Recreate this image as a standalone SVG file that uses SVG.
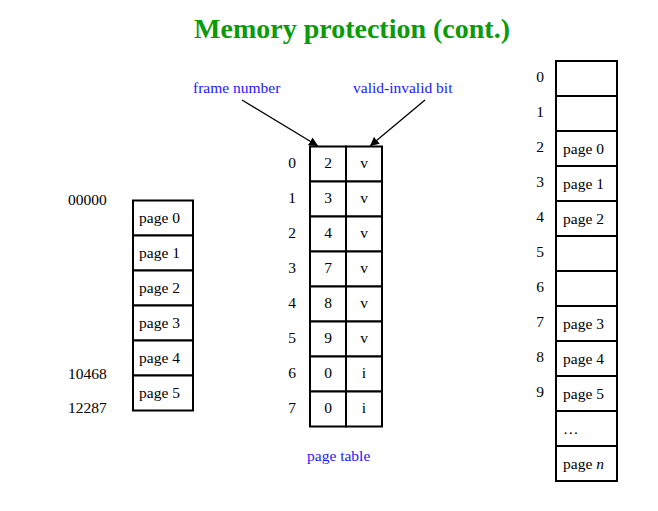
<svg xmlns="http://www.w3.org/2000/svg" width="658" height="511" viewBox="0 0 658 511">
<defs>
<style>
text{font-family:"Liberation Serif","Times New Roman",serif;font-size:15.5px;fill:#000}
.title{font-size:28px;font-weight:bold;fill:#0a9a0a}
.blue{fill:#1a1aff}
.cell{fill:#fff;stroke:#000;stroke-width:2}
.conn{stroke:#000;stroke-width:1.3;fill:none}
.c{text-anchor:middle}
</style>
<marker id="ah" viewBox="0 0 10 10" refX="10" refY="5" markerWidth="9" markerHeight="9" markerUnits="userSpaceOnUse" orient="auto">
<path d="M0,0 L10,5 L0,10 z" fill="#000"/>
</marker>
</defs>
<rect width="658" height="511" fill="#fff"/>
<text class="title c" x="352" y="38">Memory protection (cont.)</text>

<g id="labels">
<text class="blue" x="193" y="93">frame number</text>
<text class="blue" x="353" y="93">valid-invalid bit</text>
<text class="blue" x="307" y="461">page table</text>
</g>

<g id="connectors">
<line class="conn" x1="242" y1="100" x2="318" y2="146" marker-end="url(#ah)"/>
<line class="conn" x1="425" y1="100" x2="370" y2="146" marker-end="url(#ah)"/>
</g>

<g id="logical-memory">
<rect class="cell" x="133" y="200.5" width="60" height="35"/>
<rect class="cell" x="133" y="235.5" width="60" height="35"/>
<rect class="cell" x="133" y="270.5" width="60" height="35"/>
<rect class="cell" x="133" y="305.5" width="60" height="35"/>
<rect class="cell" x="133" y="340.5" width="60" height="35"/>
<rect class="cell" x="133" y="375.5" width="60" height="35"/>
<text x="139" y="223">page 0</text>
<text x="139" y="258">page 1</text>
<text x="139" y="293">page 2</text>
<text x="139" y="328">page 3</text>
<text x="139" y="363">page 4</text>
<text x="139" y="398">page 5</text>
<text x="68" y="205">00000</text>
<text x="68" y="379">10468</text>
<text x="68" y="413">12287</text>
</g>

<g id="page-table">
<rect class="cell" x="310" y="146.5" width="36" height="35"/><rect class="cell" x="346" y="146.5" width="36" height="35"/>
<rect class="cell" x="310" y="181.5" width="36" height="35"/><rect class="cell" x="346" y="181.5" width="36" height="35"/>
<rect class="cell" x="310" y="216.5" width="36" height="35"/><rect class="cell" x="346" y="216.5" width="36" height="35"/>
<rect class="cell" x="310" y="251.5" width="36" height="35"/><rect class="cell" x="346" y="251.5" width="36" height="35"/>
<rect class="cell" x="310" y="286.5" width="36" height="35"/><rect class="cell" x="346" y="286.5" width="36" height="35"/>
<rect class="cell" x="310" y="321.5" width="36" height="35"/><rect class="cell" x="346" y="321.5" width="36" height="35"/>
<rect class="cell" x="310" y="356.5" width="36" height="35"/><rect class="cell" x="346" y="356.5" width="36" height="35"/>
<rect class="cell" x="310" y="391.5" width="36" height="35"/><rect class="cell" x="346" y="391.5" width="36" height="35"/>
<text class="c" x="292" y="168">0</text><text class="c" x="328" y="168">2</text><text class="c" x="364" y="168">v</text>
<text class="c" x="292" y="203">1</text><text class="c" x="328" y="203">3</text><text class="c" x="364" y="203">v</text>
<text class="c" x="292" y="238">2</text><text class="c" x="328" y="238">4</text><text class="c" x="364" y="238">v</text>
<text class="c" x="292" y="273">3</text><text class="c" x="328" y="273">7</text><text class="c" x="364" y="273">v</text>
<text class="c" x="292" y="308">4</text><text class="c" x="328" y="308">8</text><text class="c" x="364" y="308">v</text>
<text class="c" x="292" y="343">5</text><text class="c" x="328" y="343">9</text><text class="c" x="364" y="343">v</text>
<text class="c" x="292" y="378">6</text><text class="c" x="328" y="378">0</text><text class="c" x="364" y="378">i</text>
<text class="c" x="292" y="413">7</text><text class="c" x="328" y="413">0</text><text class="c" x="364" y="413">i</text>
</g>

<g id="physical-memory">
<rect class="cell" x="556" y="61" width="61" height="35"/>
<rect class="cell" x="556" y="96" width="61" height="35"/>
<rect class="cell" x="556" y="131" width="61" height="35"/>
<rect class="cell" x="556" y="166" width="61" height="35"/>
<rect class="cell" x="556" y="201" width="61" height="35"/>
<rect class="cell" x="556" y="236" width="61" height="35"/>
<rect class="cell" x="556" y="271" width="61" height="35"/>
<rect class="cell" x="556" y="306" width="61" height="35"/>
<rect class="cell" x="556" y="341" width="61" height="35"/>
<rect class="cell" x="556" y="376" width="61" height="35"/>
<rect class="cell" x="556" y="411" width="61" height="35"/>
<rect class="cell" x="556" y="446" width="61" height="35"/>
<text class="c" x="540" y="82">0</text>
<text class="c" x="540" y="117">1</text>
<text class="c" x="540" y="152">2</text>
<text class="c" x="540" y="187">3</text>
<text class="c" x="540" y="222">4</text>
<text class="c" x="540" y="257">5</text>
<text class="c" x="540" y="292">6</text>
<text class="c" x="540" y="327">7</text>
<text class="c" x="540" y="362">8</text>
<text class="c" x="540" y="397">9</text>
<text x="563" y="154">page 0</text>
<text x="563" y="189">page 1</text>
<text x="563" y="224">page 2</text>
<text x="563" y="329">page 3</text>
<text x="563" y="364">page 4</text>
<text x="563" y="399">page 5</text>
<text x="563" y="434">…</text>
<text x="563" y="469">page <tspan font-style="italic">n</tspan></text>
</g>
</svg>
